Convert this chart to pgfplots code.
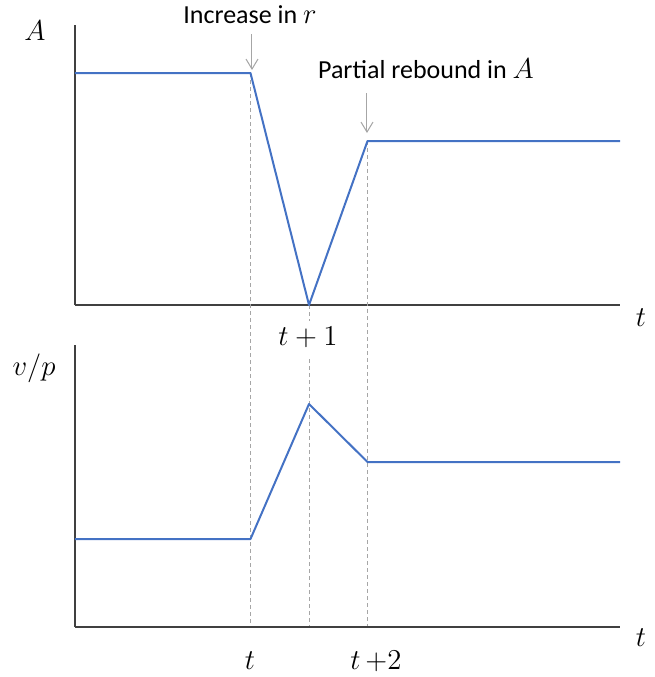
\documentclass[border=0pt]{standalone}
\usepackage{fontspec}
\setmainfont{Carlito}
\usepackage{pgfplots}
\pgfplotsset{compat=1.18}
\usetikzlibrary{arrows.meta}

\definecolor{lineblue}{HTML}{4472C4}
\definecolor{guide}{HTML}{A6A6A6}
\definecolor{spine}{HTML}{404040}

% larger math, close to the Cambria Math of the original
\newcommand\mth[1]{{\fontsize{15.5}{17}\selectfont$#1$}}

% one picture pixel = 0.5pt; one x unit = one period (58.5 px)
\pgfplotsset{panel/.style={
  scale only axis, clip=false,
  width=272.5pt,
  xmin=0, xmax=9.316, ymin=0,
  axis x line=bottom, axis y line=left,
  axis line style={-, spine, line width=0.75pt},
  xtick=\empty, ytick=\empty},
  curve/.style={lineblue, line width=1pt, line join=round, no marks}}

\begin{document}
\begin{tikzpicture}
\begin{scope}[x=0.5pt, y=-0.5pt, shift={(-37.5pt,152.5pt)}]
  \useasboundingbox (0,0) rectangle (655,677);
\end{scope}

% top panel: A
\begin{axis}[panel, at={(0,0)}, anchor=south west, height=140pt, ymax=280]
  \draw[guide, line width=0.5pt, dash pattern=on 2pt off 1.5pt]
    (axis cs:3,232) -- (axis cs:3,-322)
    (axis cs:4,0) -- (axis cs:4,-16)
    (axis cs:4,-54) -- (axis cs:4,-322)
    (axis cs:5,164) -- (axis cs:5,-322);
  \addplot[curve] coordinates {(0,232) (3,232) (4,0) (5,164) (9.316,164)};
\end{axis}

% bottom panel: v/p
\begin{axis}[panel, at={(0,-161pt)}, anchor=south west, height=141pt, ymax=282]
  \addplot[curve] coordinates {(0,88) (3,88) (4,223) (5,165) (9.316,165)};
\end{axis}

\begin{scope}[x=0.5pt, y=-0.5pt, shift={(-37.5pt,152.5pt)},
  every node/.style={font=\fontsize{13}{15}\selectfont, inner sep=0pt}]
  \draw[guide, line width=0.5pt, -{Straight Barb[length=5pt,width=6pt]}] (252,34) -- (252,70);
  \draw[guide, line width=0.5pt, -{Straight Barb[length=5pt,width=6pt]}] (367,93) -- (367,133);
  \node at (250,15) {Increase in \mth{r}};
  \node at (426,69) {Partial rebound in \mth{A}};
  \node at (35,31) {\mth{A}};
  \node at (34,368) {\mth{v/p}};
  \node at (641,318) {\mth{t}};
  \node at (641,638) {\mth{t}};
  \node at (308,337) {\mth{t+1}};
  \node at (250,661) {\mth{t}};
  \node at (376,661) {\mth{t\,{+}2}};
\end{scope}
\end{tikzpicture}
\end{document}
